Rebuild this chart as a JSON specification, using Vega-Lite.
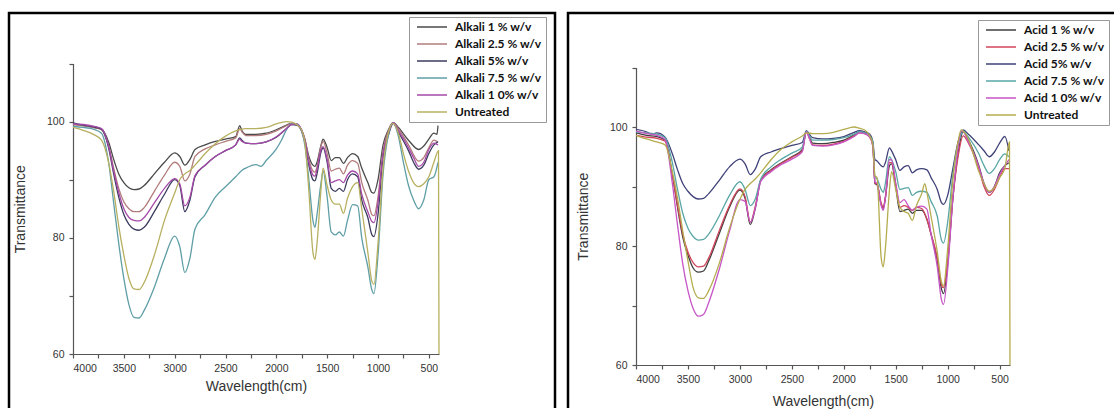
{
"$schema":"https://vega.github.io/schema/vega-lite/v6.json",
"background":"white",
"padding":{"left":7,"top":11,"right":0,"bottom":0},
"spacing":9,
"config":{
"axis":{"labelFont":"Liberation Sans","labelFontSize":10.5,"labelColor":"#333","domainColor":"#555","tickColor":"#555","domainWidth":1.2,"tickWidth":1.2,"tickSize":4,"labelPadding":5,"titleFont":"Liberation Sans","titleFontWeight":"normal","titleColor":"#333","titleFontSize":14,"grid":false},
"legend":{"orient":"none","title":null,"symbolType":"M-0.4,0H5.6","symbolSize":100,"symbolStrokeWidth":1.5,"labelFont":"Lato","labelFontWeight":"bold","labelFontSize":12,"labelColor":"#111","rowPadding":5,"padding":4,"strokeColor":"#999","fillColor":"white","labelOffset":30}
},
"datasets":{
"alk":[
{"s":"A1","w":4000,"t":99.6},{"s":"A1","w":3900,"t":99.3},{"s":"A1","w":3800,"t":99.0},{"s":"A1","w":3720,"t":98.7},{"s":"A1","w":3650,"t":96.5},{"s":"A1","w":3600,"t":93.5},{"s":"A1","w":3550,"t":91},{"s":"A1","w":3500,"t":89.5},{"s":"A1","w":3450,"t":88.6},{"s":"A1","w":3400,"t":88.3},{"s":"A1","w":3350,"t":88.4},{"s":"A1","w":3300,"t":89},{"s":"A1","w":3200,"t":91},{"s":"A1","w":3100,"t":93},{"s":"A1","w":3000,"t":94.6},{"s":"A1","w":2950,"t":94},{"s":"A1","w":2900,"t":92.5},{"s":"A1","w":2850,"t":93.5},{"s":"A1","w":2800,"t":95.2},{"s":"A1","w":2700,"t":96},{"s":"A1","w":2600,"t":96.6},{"s":"A1","w":2500,"t":97},{"s":"A1","w":2400,"t":97.4},{"s":"A1","w":2360,"t":99.3},{"s":"A1","w":2340,"t":98.5},{"s":"A1","w":2300,"t":97.8},{"s":"A1","w":2200,"t":97.8},{"s":"A1","w":2100,"t":98},{"s":"A1","w":2000,"t":98.6},{"s":"A1","w":1900,"t":99.4},{"s":"A1","w":1850,"t":99.7},{"s":"A1","w":1800,"t":99.5},{"s":"A1","w":1750,"t":98.5},{"s":"A1","w":1720,"t":97},{"s":"A1","w":1680,"t":94},{"s":"A1","w":1640,"t":92.5},{"s":"A1","w":1620,"t":92.3},{"s":"A1","w":1600,"t":93},{"s":"A1","w":1560,"t":96},{"s":"A1","w":1540,"t":97},{"s":"A1","w":1500,"t":95.5},{"s":"A1","w":1460,"t":93.3},{"s":"A1","w":1420,"t":93.8},{"s":"A1","w":1380,"t":93.8},{"s":"A1","w":1340,"t":92.8},{"s":"A1","w":1300,"t":93.8},{"s":"A1","w":1250,"t":94.5},{"s":"A1","w":1200,"t":94},{"s":"A1","w":1160,"t":92},{"s":"A1","w":1100,"t":89.5},{"s":"A1","w":1060,"t":87.8},{"s":"A1","w":1040,"t":87.7},{"s":"A1","w":1000,"t":90},{"s":"A1","w":950,"t":96},{"s":"A1","w":900,"t":98.5},{"s":"A1","w":850,"t":99.8},{"s":"A1","w":800,"t":99},{"s":"A1","w":700,"t":96.8},{"s":"A1","w":600,"t":95.2},{"s":"A1","w":550,"t":95.8},{"s":"A1","w":500,"t":97},{"s":"A1","w":450,"t":98},{"s":"A1","w":420,"t":97.8},{"s":"A1","w":410,"t":99.3},
{"s":"A25","w":4000,"t":99.5},{"s":"A25","w":3900,"t":99.3},{"s":"A25","w":3800,"t":99.0},{"s":"A25","w":3720,"t":98.6},{"s":"A25","w":3650,"t":95.8},{"s":"A25","w":3600,"t":92},{"s":"A25","w":3550,"t":88.5},{"s":"A25","w":3500,"t":86.2},{"s":"A25","w":3450,"t":85},{"s":"A25","w":3400,"t":84.5},{"s":"A25","w":3350,"t":84.5},{"s":"A25","w":3300,"t":85.2},{"s":"A25","w":3200,"t":88},{"s":"A25","w":3100,"t":90.8},{"s":"A25","w":3000,"t":93},{"s":"A25","w":2950,"t":92.3},{"s":"A25","w":2900,"t":89.8},{"s":"A25","w":2850,"t":91},{"s":"A25","w":2800,"t":94},{"s":"A25","w":2700,"t":95.3},{"s":"A25","w":2600,"t":96},{"s":"A25","w":2500,"t":96.6},{"s":"A25","w":2400,"t":97.2},{"s":"A25","w":2360,"t":98.8},{"s":"A25","w":2340,"t":98.3},{"s":"A25","w":2300,"t":97.6},{"s":"A25","w":2200,"t":97.6},{"s":"A25","w":2100,"t":97.8},{"s":"A25","w":2000,"t":98.4},{"s":"A25","w":1900,"t":99.3},{"s":"A25","w":1850,"t":99.7},{"s":"A25","w":1800,"t":99.5},{"s":"A25","w":1750,"t":98.5},{"s":"A25","w":1720,"t":97},{"s":"A25","w":1680,"t":93.5},{"s":"A25","w":1640,"t":91.5},{"s":"A25","w":1620,"t":91.3},{"s":"A25","w":1600,"t":92.2},{"s":"A25","w":1560,"t":95.8},{"s":"A25","w":1540,"t":96.6},{"s":"A25","w":1500,"t":94.5},{"s":"A25","w":1460,"t":91.5},{"s":"A25","w":1420,"t":91.8},{"s":"A25","w":1380,"t":92},{"s":"A25","w":1340,"t":91},{"s":"A25","w":1300,"t":92.5},{"s":"A25","w":1250,"t":93.3},{"s":"A25","w":1200,"t":92.8},{"s":"A25","w":1160,"t":89.5},{"s":"A25","w":1100,"t":86.5},{"s":"A25","w":1060,"t":84},{"s":"A25","w":1040,"t":83.8},{"s":"A25","w":1000,"t":87},{"s":"A25","w":950,"t":95},{"s":"A25","w":900,"t":98.3},{"s":"A25","w":850,"t":99.8},{"s":"A25","w":800,"t":98.8},{"s":"A25","w":700,"t":96},{"s":"A25","w":600,"t":93.2},{"s":"A25","w":550,"t":93.8},{"s":"A25","w":500,"t":95.5},{"s":"A25","w":450,"t":96.8},{"s":"A25","w":410,"t":96.5},
{"s":"A5","w":4000,"t":99.8},{"s":"A5","w":3900,"t":99.4},{"s":"A5","w":3800,"t":99.1},{"s":"A5","w":3720,"t":98.7},{"s":"A5","w":3650,"t":95.5},{"s":"A5","w":3600,"t":91},{"s":"A5","w":3550,"t":87},{"s":"A5","w":3500,"t":84},{"s":"A5","w":3450,"t":82.3},{"s":"A5","w":3400,"t":81.5},{"s":"A5","w":3350,"t":81.3},{"s":"A5","w":3300,"t":81.8},{"s":"A5","w":3200,"t":84.5},{"s":"A5","w":3100,"t":87.5},{"s":"A5","w":3000,"t":90},{"s":"A5","w":2950,"t":89},{"s":"A5","w":2900,"t":84.5},{"s":"A5","w":2850,"t":86.5},{"s":"A5","w":2800,"t":90.5},{"s":"A5","w":2700,"t":92.5},{"s":"A5","w":2600,"t":94},{"s":"A5","w":2500,"t":95},{"s":"A5","w":2400,"t":96},{"s":"A5","w":2360,"t":97.2},{"s":"A5","w":2340,"t":96.8},{"s":"A5","w":2300,"t":96.3},{"s":"A5","w":2200,"t":96.2},{"s":"A5","w":2100,"t":96.5},{"s":"A5","w":2000,"t":97.3},{"s":"A5","w":1900,"t":98.8},{"s":"A5","w":1850,"t":99.5},{"s":"A5","w":1800,"t":99.4},{"s":"A5","w":1750,"t":98.3},{"s":"A5","w":1720,"t":96.5},{"s":"A5","w":1680,"t":92.5},{"s":"A5","w":1640,"t":90},{"s":"A5","w":1620,"t":89.8},{"s":"A5","w":1600,"t":91},{"s":"A5","w":1560,"t":94.8},{"s":"A5","w":1540,"t":95.5},{"s":"A5","w":1500,"t":93},{"s":"A5","w":1460,"t":88.5},{"s":"A5","w":1420,"t":88},{"s":"A5","w":1380,"t":88.5},{"s":"A5","w":1340,"t":88},{"s":"A5","w":1300,"t":90},{"s":"A5","w":1250,"t":91},{"s":"A5","w":1200,"t":90.5},{"s":"A5","w":1160,"t":86.5},{"s":"A5","w":1100,"t":83.5},{"s":"A5","w":1060,"t":80.5},{"s":"A5","w":1040,"t":80.2},{"s":"A5","w":1000,"t":84},{"s":"A5","w":950,"t":94},{"s":"A5","w":900,"t":97.5},{"s":"A5","w":850,"t":99.7},{"s":"A5","w":800,"t":98.2},{"s":"A5","w":700,"t":95},{"s":"A5","w":650,"t":93},{"s":"A5","w":600,"t":91.8},{"s":"A5","w":550,"t":92.5},{"s":"A5","w":500,"t":94.5},{"s":"A5","w":450,"t":96},{"s":"A5","w":410,"t":96.5},
{"s":"A75","w":4000,"t":99.2},{"s":"A75","w":3900,"t":99},{"s":"A75","w":3800,"t":98.7},{"s":"A75","w":3720,"t":98},{"s":"A75","w":3650,"t":93},{"s":"A75","w":3600,"t":86},{"s":"A75","w":3550,"t":79},{"s":"A75","w":3500,"t":73},{"s":"A75","w":3450,"t":68.5},{"s":"A75","w":3400,"t":66.3},{"s":"A75","w":3350,"t":66.2},{"s":"A75","w":3300,"t":67.5},{"s":"A75","w":3200,"t":71.5},{"s":"A75","w":3100,"t":76.5},{"s":"A75","w":3000,"t":80.3},{"s":"A75","w":2950,"t":78.5},{"s":"A75","w":2900,"t":74},{"s":"A75","w":2850,"t":76.5},{"s":"A75","w":2800,"t":81.5},{"s":"A75","w":2700,"t":84},{"s":"A75","w":2600,"t":87},{"s":"A75","w":2500,"t":88.8},{"s":"A75","w":2400,"t":90.5},{"s":"A75","w":2340,"t":91.6},{"s":"A75","w":2300,"t":92},{"s":"A75","w":2200,"t":92.6},{"s":"A75","w":2150,"t":92.3},{"s":"A75","w":2100,"t":93.3},{"s":"A75","w":2000,"t":95.3},{"s":"A75","w":1950,"t":96.8},{"s":"A75","w":1900,"t":98.6},{"s":"A75","w":1850,"t":99.6},{"s":"A75","w":1800,"t":99.6},{"s":"A75","w":1750,"t":98.3},{"s":"A75","w":1720,"t":96},{"s":"A75","w":1680,"t":90},{"s":"A75","w":1640,"t":83},{"s":"A75","w":1620,"t":81.8},{"s":"A75","w":1600,"t":84},{"s":"A75","w":1560,"t":89.5},{"s":"A75","w":1540,"t":91.5},{"s":"A75","w":1500,"t":87},{"s":"A75","w":1460,"t":81},{"s":"A75","w":1420,"t":80.5},{"s":"A75","w":1380,"t":81},{"s":"A75","w":1340,"t":80.3},{"s":"A75","w":1300,"t":83},{"s":"A75","w":1250,"t":85.7},{"s":"A75","w":1200,"t":85.5},{"s":"A75","w":1160,"t":80},{"s":"A75","w":1100,"t":75},{"s":"A75","w":1060,"t":71},{"s":"A75","w":1040,"t":70.4},{"s":"A75","w":1000,"t":77},{"s":"A75","w":950,"t":91},{"s":"A75","w":900,"t":97.5},{"s":"A75","w":850,"t":99.8},{"s":"A75","w":800,"t":97.5},{"s":"A75","w":750,"t":93},{"s":"A75","w":700,"t":89},{"s":"A75","w":650,"t":86.5},{"s":"A75","w":600,"t":85},{"s":"A75","w":550,"t":86.5},{"s":"A75","w":500,"t":90},{"s":"A75","w":450,"t":90.5},{"s":"A75","w":410,"t":93},
{"s":"A10","w":4000,"t":99.6},{"s":"A10","w":3900,"t":99.5},{"s":"A10","w":3800,"t":99.2},{"s":"A10","w":3720,"t":98.8},{"s":"A10","w":3650,"t":95.8},{"s":"A10","w":3600,"t":91.5},{"s":"A10","w":3550,"t":87.8},{"s":"A10","w":3500,"t":85},{"s":"A10","w":3450,"t":83.5},{"s":"A10","w":3400,"t":83},{"s":"A10","w":3350,"t":82.9},{"s":"A10","w":3300,"t":83.5},{"s":"A10","w":3200,"t":86},{"s":"A10","w":3100,"t":88.5},{"s":"A10","w":3000,"t":90.2},{"s":"A10","w":2950,"t":89.3},{"s":"A10","w":2900,"t":85.5},{"s":"A10","w":2850,"t":87},{"s":"A10","w":2800,"t":90.7},{"s":"A10","w":2700,"t":92.5},{"s":"A10","w":2600,"t":94},{"s":"A10","w":2500,"t":95},{"s":"A10","w":2400,"t":96},{"s":"A10","w":2360,"t":97},{"s":"A10","w":2340,"t":96.6},{"s":"A10","w":2300,"t":96.3},{"s":"A10","w":2200,"t":96.2},{"s":"A10","w":2100,"t":96.5},{"s":"A10","w":2000,"t":97.4},{"s":"A10","w":1900,"t":98.8},{"s":"A10","w":1850,"t":99.5},{"s":"A10","w":1800,"t":99.6},{"s":"A10","w":1750,"t":98.5},{"s":"A10","w":1720,"t":96.8},{"s":"A10","w":1680,"t":93},{"s":"A10","w":1640,"t":90.8},{"s":"A10","w":1620,"t":90.6},{"s":"A10","w":1600,"t":91.8},{"s":"A10","w":1560,"t":95.2},{"s":"A10","w":1540,"t":95.7},{"s":"A10","w":1500,"t":93.5},{"s":"A10","w":1460,"t":89.5},{"s":"A10","w":1420,"t":89.8},{"s":"A10","w":1380,"t":90},{"s":"A10","w":1340,"t":89.5},{"s":"A10","w":1300,"t":90.8},{"s":"A10","w":1250,"t":91.5},{"s":"A10","w":1200,"t":91},{"s":"A10","w":1160,"t":87.5},{"s":"A10","w":1100,"t":84.5},{"s":"A10","w":1060,"t":82.8},{"s":"A10","w":1040,"t":82.6},{"s":"A10","w":1000,"t":86},{"s":"A10","w":950,"t":94.5},{"s":"A10","w":900,"t":98},{"s":"A10","w":850,"t":99.8},{"s":"A10","w":800,"t":98.5},{"s":"A10","w":700,"t":95.5},{"s":"A10","w":650,"t":93.8},{"s":"A10","w":600,"t":92.3},{"s":"A10","w":550,"t":93},{"s":"A10","w":500,"t":95.2},{"s":"A10","w":450,"t":96.3},{"s":"A10","w":410,"t":96},
{"s":"U","w":4000,"t":99.0},{"s":"U","w":3900,"t":98.5},{"s":"U","w":3800,"t":97.8},{"s":"U","w":3720,"t":96.8},{"s":"U","w":3650,"t":93},{"s":"U","w":3600,"t":88},{"s":"U","w":3550,"t":82},{"s":"U","w":3500,"t":77},{"s":"U","w":3450,"t":73},{"s":"U","w":3400,"t":71.2},{"s":"U","w":3350,"t":71.1},{"s":"U","w":3300,"t":72.3},{"s":"U","w":3200,"t":77},{"s":"U","w":3100,"t":83},{"s":"U","w":3000,"t":87.7},{"s":"U","w":2950,"t":90},{"s":"U","w":2900,"t":91},{"s":"U","w":2850,"t":91.6},{"s":"U","w":2800,"t":92.5},{"s":"U","w":2700,"t":94.5},{"s":"U","w":2600,"t":96.2},{"s":"U","w":2500,"t":97.5},{"s":"U","w":2400,"t":98.4},{"s":"U","w":2300,"t":98.8},{"s":"U","w":2200,"t":98.8},{"s":"U","w":2100,"t":99},{"s":"U","w":2000,"t":99.6},{"s":"U","w":1900,"t":100},{"s":"U","w":1850,"t":99.9},{"s":"U","w":1800,"t":99.5},{"s":"U","w":1750,"t":98.5},{"s":"U","w":1720,"t":96.5},{"s":"U","w":1680,"t":88},{"s":"U","w":1640,"t":77.5},{"s":"U","w":1620,"t":76.3},{"s":"U","w":1600,"t":79},{"s":"U","w":1560,"t":88.5},{"s":"U","w":1540,"t":92},{"s":"U","w":1500,"t":89},{"s":"U","w":1460,"t":86.5},{"s":"U","w":1420,"t":85.8},{"s":"U","w":1380,"t":85.8},{"s":"U","w":1340,"t":84.2},{"s":"U","w":1300,"t":86.8},{"s":"U","w":1250,"t":88.8},{"s":"U","w":1200,"t":89.5},{"s":"U","w":1160,"t":85},{"s":"U","w":1100,"t":77.5},{"s":"U","w":1060,"t":72.5},{"s":"U","w":1040,"t":72},{"s":"U","w":1000,"t":79},{"s":"U","w":950,"t":92},{"s":"U","w":900,"t":98},{"s":"U","w":850,"t":99.7},{"s":"U","w":800,"t":98},{"s":"U","w":750,"t":94.5},{"s":"U","w":700,"t":91.5},{"s":"U","w":650,"t":89.5},{"s":"U","w":600,"t":88.8},{"s":"U","w":550,"t":89.3},{"s":"U","w":500,"t":90.5},{"s":"U","w":450,"t":93},{"s":"U","w":405,"t":95},{"s":"U","w":400,"t":60}
],
"acd":[
{"s":"C1","w":4000,"t":99},{"s":"C1","w":3900,"t":98.6},{"s":"C1","w":3800,"t":98.4},{"s":"C1","w":3720,"t":97.8},{"s":"C1","w":3650,"t":92},{"s":"C1","w":3600,"t":86.5},{"s":"C1","w":3550,"t":81.5},{"s":"C1","w":3500,"t":78.5},{"s":"C1","w":3450,"t":76.3},{"s":"C1","w":3400,"t":75.6},{"s":"C1","w":3350,"t":75.8},{"s":"C1","w":3300,"t":77.5},{"s":"C1","w":3200,"t":82},{"s":"C1","w":3100,"t":86.5},{"s":"C1","w":3000,"t":89.4},{"s":"C1","w":2950,"t":88},{"s":"C1","w":2900,"t":83.6},{"s":"C1","w":2850,"t":86.5},{"s":"C1","w":2800,"t":91},{"s":"C1","w":2700,"t":92.8},{"s":"C1","w":2600,"t":94},{"s":"C1","w":2500,"t":95},{"s":"C1","w":2400,"t":96.2},{"s":"C1","w":2360,"t":99.3},{"s":"C1","w":2340,"t":98.7},{"s":"C1","w":2300,"t":97.3},{"s":"C1","w":2200,"t":97.2},{"s":"C1","w":2100,"t":97.4},{"s":"C1","w":2000,"t":97.8},{"s":"C1","w":1900,"t":98.7},{"s":"C1","w":1850,"t":99.2},{"s":"C1","w":1800,"t":99},{"s":"C1","w":1750,"t":98.5},{"s":"C1","w":1720,"t":97},{"s":"C1","w":1700,"t":90.5},{"s":"C1","w":1680,"t":90.3},{"s":"C1","w":1640,"t":87},{"s":"C1","w":1620,"t":86.3},{"s":"C1","w":1600,"t":88},{"s":"C1","w":1560,"t":93.5},{"s":"C1","w":1540,"t":93.8},{"s":"C1","w":1500,"t":90},{"s":"C1","w":1460,"t":85.8},{"s":"C1","w":1420,"t":86},{"s":"C1","w":1380,"t":86.2},{"s":"C1","w":1340,"t":85.5},{"s":"C1","w":1300,"t":86},{"s":"C1","w":1250,"t":86},{"s":"C1","w":1200,"t":84.5},{"s":"C1","w":1160,"t":82},{"s":"C1","w":1100,"t":77.5},{"s":"C1","w":1060,"t":72.8},{"s":"C1","w":1040,"t":72},{"s":"C1","w":1000,"t":77},{"s":"C1","w":950,"t":88},{"s":"C1","w":900,"t":95.5},{"s":"C1","w":850,"t":99.2},{"s":"C1","w":800,"t":97.8},{"s":"C1","w":700,"t":93.5},{"s":"C1","w":650,"t":90.5},{"s":"C1","w":600,"t":89},{"s":"C1","w":550,"t":90},{"s":"C1","w":500,"t":92.3},{"s":"C1","w":450,"t":93.5},{"s":"C1","w":410,"t":94},
{"s":"C25","w":4000,"t":98.6},{"s":"C25","w":3900,"t":98.3},{"s":"C25","w":3800,"t":98.1},{"s":"C25","w":3720,"t":97.6},{"s":"C25","w":3650,"t":92},{"s":"C25","w":3600,"t":86.8},{"s":"C25","w":3550,"t":82},{"s":"C25","w":3500,"t":79},{"s":"C25","w":3450,"t":77.2},{"s":"C25","w":3400,"t":76.5},{"s":"C25","w":3350,"t":76.6},{"s":"C25","w":3300,"t":78},{"s":"C25","w":3200,"t":82.5},{"s":"C25","w":3100,"t":86.8},{"s":"C25","w":3000,"t":89.6},{"s":"C25","w":2950,"t":88.3},{"s":"C25","w":2900,"t":84},{"s":"C25","w":2850,"t":86.8},{"s":"C25","w":2800,"t":91},{"s":"C25","w":2700,"t":92.7},{"s":"C25","w":2600,"t":93.9},{"s":"C25","w":2500,"t":94.9},{"s":"C25","w":2400,"t":96},{"s":"C25","w":2360,"t":99.2},{"s":"C25","w":2340,"t":98.5},{"s":"C25","w":2300,"t":97},{"s":"C25","w":2200,"t":96.9},{"s":"C25","w":2100,"t":97.1},{"s":"C25","w":2000,"t":97.6},{"s":"C25","w":1900,"t":98.5},{"s":"C25","w":1850,"t":99},{"s":"C25","w":1800,"t":98.9},{"s":"C25","w":1750,"t":98.3},{"s":"C25","w":1720,"t":96.8},{"s":"C25","w":1700,"t":90.5},{"s":"C25","w":1680,"t":90.5},{"s":"C25","w":1640,"t":87.2},{"s":"C25","w":1620,"t":86.5},{"s":"C25","w":1600,"t":88.2},{"s":"C25","w":1560,"t":94},{"s":"C25","w":1540,"t":94},{"s":"C25","w":1500,"t":90.5},{"s":"C25","w":1460,"t":86.5},{"s":"C25","w":1420,"t":86.8},{"s":"C25","w":1380,"t":86.5},{"s":"C25","w":1340,"t":86},{"s":"C25","w":1300,"t":86.5},{"s":"C25","w":1250,"t":86.3},{"s":"C25","w":1200,"t":84.5},{"s":"C25","w":1160,"t":82},{"s":"C25","w":1100,"t":78},{"s":"C25","w":1060,"t":73.5},{"s":"C25","w":1040,"t":73},{"s":"C25","w":1000,"t":77.5},{"s":"C25","w":950,"t":88},{"s":"C25","w":900,"t":95},{"s":"C25","w":850,"t":98.5},{"s":"C25","w":800,"t":97.3},{"s":"C25","w":700,"t":93},{"s":"C25","w":650,"t":90},{"s":"C25","w":600,"t":88.5},{"s":"C25","w":550,"t":89.5},{"s":"C25","w":500,"t":91.5},{"s":"C25","w":450,"t":93},{"s":"C25","w":410,"t":93},
{"s":"C5","w":4000,"t":99.6},{"s":"C5","w":3900,"t":99.2},{"s":"C5","w":3850,"t":98.8},{"s":"C5","w":3800,"t":99},{"s":"C5","w":3720,"t":98.3},{"s":"C5","w":3650,"t":95.5},{"s":"C5","w":3600,"t":92.8},{"s":"C5","w":3550,"t":90.5},{"s":"C5","w":3500,"t":89.2},{"s":"C5","w":3450,"t":88.3},{"s":"C5","w":3400,"t":87.9},{"s":"C5","w":3350,"t":88},{"s":"C5","w":3300,"t":88.8},{"s":"C5","w":3200,"t":91},{"s":"C5","w":3100,"t":93.3},{"s":"C5","w":3000,"t":94.6},{"s":"C5","w":2950,"t":93.8},{"s":"C5","w":2900,"t":92},{"s":"C5","w":2850,"t":93},{"s":"C5","w":2800,"t":95},{"s":"C5","w":2700,"t":95.8},{"s":"C5","w":2600,"t":96.4},{"s":"C5","w":2500,"t":96.9},{"s":"C5","w":2400,"t":97.4},{"s":"C5","w":2360,"t":99.4},{"s":"C5","w":2340,"t":99},{"s":"C5","w":2300,"t":98.2},{"s":"C5","w":2200,"t":98},{"s":"C5","w":2100,"t":98.1},{"s":"C5","w":2000,"t":98.4},{"s":"C5","w":1900,"t":99.1},{"s":"C5","w":1850,"t":99.4},{"s":"C5","w":1800,"t":99.2},{"s":"C5","w":1750,"t":98.8},{"s":"C5","w":1720,"t":97.5},{"s":"C5","w":1700,"t":94.5},{"s":"C5","w":1680,"t":94.3},{"s":"C5","w":1640,"t":93.5},{"s":"C5","w":1620,"t":93.3},{"s":"C5","w":1600,"t":94},{"s":"C5","w":1560,"t":96.5},{"s":"C5","w":1540,"t":96},{"s":"C5","w":1500,"t":94.5},{"s":"C5","w":1460,"t":92.7},{"s":"C5","w":1420,"t":93.3},{"s":"C5","w":1380,"t":93.5},{"s":"C5","w":1340,"t":92.3},{"s":"C5","w":1300,"t":92.8},{"s":"C5","w":1250,"t":93},{"s":"C5","w":1200,"t":92.8},{"s":"C5","w":1160,"t":91.5},{"s":"C5","w":1100,"t":89.5},{"s":"C5","w":1060,"t":87.3},{"s":"C5","w":1040,"t":87},{"s":"C5","w":1000,"t":88.5},{"s":"C5","w":950,"t":93},{"s":"C5","w":900,"t":97.5},{"s":"C5","w":850,"t":99.5},{"s":"C5","w":800,"t":98.8},{"s":"C5","w":700,"t":97},{"s":"C5","w":650,"t":96},{"s":"C5","w":600,"t":95},{"s":"C5","w":550,"t":95.8},{"s":"C5","w":500,"t":97.3},{"s":"C5","w":450,"t":98.4},{"s":"C5","w":410,"t":96},
{"s":"C75","w":4000,"t":99.2},{"s":"C75","w":3900,"t":99},{"s":"C75","w":3800,"t":98.8},{"s":"C75","w":3720,"t":98.2},{"s":"C75","w":3650,"t":94},{"s":"C75","w":3600,"t":89.5},{"s":"C75","w":3550,"t":85.5},{"s":"C75","w":3500,"t":83},{"s":"C75","w":3450,"t":81.6},{"s":"C75","w":3400,"t":81},{"s":"C75","w":3350,"t":81.1},{"s":"C75","w":3300,"t":82},{"s":"C75","w":3200,"t":85},{"s":"C75","w":3100,"t":88.5},{"s":"C75","w":3000,"t":90.8},{"s":"C75","w":2950,"t":89.5},{"s":"C75","w":2900,"t":86.8},{"s":"C75","w":2850,"t":88},{"s":"C75","w":2800,"t":91.2},{"s":"C75","w":2700,"t":93.3},{"s":"C75","w":2600,"t":94.6},{"s":"C75","w":2500,"t":95.6},{"s":"C75","w":2400,"t":96.6},{"s":"C75","w":2360,"t":99.3},{"s":"C75","w":2340,"t":98.8},{"s":"C75","w":2300,"t":97.8},{"s":"C75","w":2200,"t":97.8},{"s":"C75","w":2100,"t":97.9},{"s":"C75","w":2000,"t":98.2},{"s":"C75","w":1900,"t":98.8},{"s":"C75","w":1850,"t":99.2},{"s":"C75","w":1800,"t":99},{"s":"C75","w":1750,"t":98.5},{"s":"C75","w":1720,"t":97.5},{"s":"C75","w":1700,"t":91.5},{"s":"C75","w":1680,"t":91.3},{"s":"C75","w":1640,"t":89.5},{"s":"C75","w":1620,"t":89},{"s":"C75","w":1600,"t":90.5},{"s":"C75","w":1560,"t":95},{"s":"C75","w":1540,"t":94.5},{"s":"C75","w":1500,"t":92.5},{"s":"C75","w":1460,"t":89.5},{"s":"C75","w":1420,"t":89.7},{"s":"C75","w":1380,"t":89.8},{"s":"C75","w":1340,"t":88.5},{"s":"C75","w":1300,"t":89},{"s":"C75","w":1250,"t":89.2},{"s":"C75","w":1200,"t":89},{"s":"C75","w":1160,"t":87.5},{"s":"C75","w":1100,"t":85},{"s":"C75","w":1060,"t":81},{"s":"C75","w":1040,"t":80.5},{"s":"C75","w":1000,"t":84},{"s":"C75","w":950,"t":92},{"s":"C75","w":900,"t":97},{"s":"C75","w":850,"t":99.3},{"s":"C75","w":800,"t":98.3},{"s":"C75","w":700,"t":95.5},{"s":"C75","w":650,"t":93.5},{"s":"C75","w":600,"t":92.2},{"s":"C75","w":550,"t":93},{"s":"C75","w":500,"t":94.5},{"s":"C75","w":450,"t":95.5},{"s":"C75","w":410,"t":95},
{"s":"C10","w":4000,"t":99.3},{"s":"C10","w":3900,"t":98.9},{"s":"C10","w":3800,"t":98.6},{"s":"C10","w":3720,"t":97.9},{"s":"C10","w":3650,"t":90.5},{"s":"C10","w":3600,"t":83.5},{"s":"C10","w":3550,"t":77},{"s":"C10","w":3500,"t":72.5},{"s":"C10","w":3450,"t":69.5},{"s":"C10","w":3400,"t":68.2},{"s":"C10","w":3350,"t":68.5},{"s":"C10","w":3300,"t":70.5},{"s":"C10","w":3200,"t":76},{"s":"C10","w":3100,"t":82.5},{"s":"C10","w":3000,"t":87.8},{"s":"C10","w":2950,"t":87.5},{"s":"C10","w":2900,"t":84},{"s":"C10","w":2850,"t":86.5},{"s":"C10","w":2800,"t":90.8},{"s":"C10","w":2700,"t":92.5},{"s":"C10","w":2600,"t":93.7},{"s":"C10","w":2500,"t":94.6},{"s":"C10","w":2400,"t":95.8},{"s":"C10","w":2360,"t":99.2},{"s":"C10","w":2340,"t":98.5},{"s":"C10","w":2300,"t":96.9},{"s":"C10","w":2200,"t":96.8},{"s":"C10","w":2100,"t":97},{"s":"C10","w":2000,"t":97.5},{"s":"C10","w":1900,"t":98.4},{"s":"C10","w":1850,"t":99},{"s":"C10","w":1800,"t":98.9},{"s":"C10","w":1750,"t":98.3},{"s":"C10","w":1720,"t":96.8},{"s":"C10","w":1700,"t":90.8},{"s":"C10","w":1680,"t":90.5},{"s":"C10","w":1640,"t":86.8},{"s":"C10","w":1620,"t":86},{"s":"C10","w":1600,"t":88},{"s":"C10","w":1560,"t":94.5},{"s":"C10","w":1540,"t":94.5},{"s":"C10","w":1500,"t":90.5},{"s":"C10","w":1460,"t":87.3},{"s":"C10","w":1420,"t":87.8},{"s":"C10","w":1380,"t":86.8},{"s":"C10","w":1340,"t":86},{"s":"C10","w":1300,"t":86.5},{"s":"C10","w":1250,"t":86.7},{"s":"C10","w":1200,"t":86.2},{"s":"C10","w":1160,"t":82},{"s":"C10","w":1100,"t":76.5},{"s":"C10","w":1060,"t":71},{"s":"C10","w":1040,"t":70.2},{"s":"C10","w":1000,"t":76},{"s":"C10","w":950,"t":88},{"s":"C10","w":900,"t":96.5},{"s":"C10","w":870,"t":99.3},{"s":"C10","w":850,"t":99.2},{"s":"C10","w":800,"t":97.5},{"s":"C10","w":700,"t":93.3},{"s":"C10","w":650,"t":90.5},{"s":"C10","w":600,"t":89},{"s":"C10","w":550,"t":90},{"s":"C10","w":500,"t":92},{"s":"C10","w":450,"t":93.5},{"s":"C10","w":410,"t":94.5},
{"s":"U","w":4000,"t":98.6},{"s":"U","w":3900,"t":98},{"s":"U","w":3800,"t":97.5},{"s":"U","w":3720,"t":97},{"s":"U","w":3650,"t":92.5},{"s":"U","w":3600,"t":88},{"s":"U","w":3550,"t":82.5},{"s":"U","w":3500,"t":77.5},{"s":"U","w":3450,"t":73},{"s":"U","w":3400,"t":71.3},{"s":"U","w":3350,"t":71.2},{"s":"U","w":3300,"t":72.5},{"s":"U","w":3200,"t":77},{"s":"U","w":3100,"t":83},{"s":"U","w":3000,"t":87.8},{"s":"U","w":2950,"t":89.5},{"s":"U","w":2900,"t":90.5},{"s":"U","w":2850,"t":91.3},{"s":"U","w":2800,"t":92.3},{"s":"U","w":2700,"t":94.5},{"s":"U","w":2600,"t":96.3},{"s":"U","w":2500,"t":97.5},{"s":"U","w":2400,"t":98.5},{"s":"U","w":2360,"t":99},{"s":"U","w":2300,"t":98.9},{"s":"U","w":2200,"t":98.9},{"s":"U","w":2100,"t":99.1},{"s":"U","w":2000,"t":99.6},{"s":"U","w":1900,"t":100},{"s":"U","w":1850,"t":99.8},{"s":"U","w":1800,"t":99.5},{"s":"U","w":1750,"t":98.5},{"s":"U","w":1720,"t":97},{"s":"U","w":1700,"t":91.8},{"s":"U","w":1680,"t":91.5},{"s":"U","w":1640,"t":78},{"s":"U","w":1620,"t":76.5},{"s":"U","w":1600,"t":79.5},{"s":"U","w":1560,"t":89.5},{"s":"U","w":1540,"t":92.5},{"s":"U","w":1500,"t":89.5},{"s":"U","w":1460,"t":86.5},{"s":"U","w":1420,"t":85.8},{"s":"U","w":1380,"t":85.5},{"s":"U","w":1340,"t":84.3},{"s":"U","w":1300,"t":86.8},{"s":"U","w":1250,"t":88.8},{"s":"U","w":1220,"t":90.5},{"s":"U","w":1200,"t":89},{"s":"U","w":1160,"t":85},{"s":"U","w":1100,"t":79},{"s":"U","w":1060,"t":74},{"s":"U","w":1040,"t":73.3},{"s":"U","w":1000,"t":79.5},{"s":"U","w":950,"t":91},{"s":"U","w":900,"t":97.5},{"s":"U","w":870,"t":99.5},{"s":"U","w":850,"t":99.3},{"s":"U","w":800,"t":98},{"s":"U","w":750,"t":95.3},{"s":"U","w":700,"t":92.5},{"s":"U","w":650,"t":90.5},{"s":"U","w":600,"t":89.2},{"s":"U","w":550,"t":89.8},{"s":"U","w":500,"t":91.5},{"s":"U","w":450,"t":93},{"s":"U","w":405,"t":97.5},{"s":"U","w":400,"t":60}
]
},
"hconcat":[
{
"width":546,"height":395,
"view":{"stroke":"#000","strokeWidth":2.5,"strokeDash":[941,546,395]},
"data":{"name":"alk"},
"mark":{"type":"line","strokeWidth":1.3,"interpolate":"monotone"},
"encoding":{
"x":{"field":"w","type":"quantitative","scale":{"domain":[4000,400],"range":[64,430],"nice":false,"zero":false},
"axis":{"title":"Wavelength(cm)","offset":-54,"format":"d","values":[4000,3750,3500,3250,3000,2750,2500,2250,2000,1750,1500,1250,1000,750,500],"labelExpr":"datum.value % 500 == 0 ? datum.label : ''","titlePadding":6}},
"y":{"field":"t","type":"quantitative","scale":{"domain":[60,110],"range":[341,50.5],"nice":false,"zero":false},
"axis":{"title":"Transmittance","offset":-64,"values":[60,70,80,90,100,110],"labelExpr":"datum.value % 20 == 0 ? datum.label : ''","titlePadding":19}},
"color":{"field":"s","type":"nominal","scale":{"domain":["A1","A25","A5","A75","A10","U"],"range":["#4a4a4a","#b27c7c","#3b3b5e","#5f9ea6","#a54aa8","#b7b060"]},
"legend":{"legendX":400,"legendY":4,"labelExpr":"datum.label == 'A1' ? 'Alkali 1 % w/v' : datum.label == 'A25' ? 'Alkali 2.5 % w/v' : datum.label == 'A5' ? 'Alkali 5% w/v' : datum.label == 'A75' ? 'Alkali 7.5 % w/v' : datum.label == 'A10' ? 'Alkali 1 0% w/v' : 'Untreated'"}}
}
},
{
"width":546,"height":395,
"view":{"stroke":"#000","strokeWidth":2.5,"strokeDash":[546,941,395]},
"data":{"name":"acd"},
"mark":{"type":"line","strokeWidth":1.3,"interpolate":"monotone"},
"encoding":{
"x":{"field":"w","type":"quantitative","scale":{"domain":[4000,400],"range":[68,442],"nice":false,"zero":false},
"axis":{"title":"Wavelength(cm)","offset":-43,"format":"d","values":[4000,3750,3500,3250,3000,2750,2500,2250,2000,1750,1500,1250,1000,750,500],"labelExpr":"datum.value % 500 == 0 ? datum.label : ''","titlePadding":10}},
"y":{"field":"t","type":"quantitative","scale":{"domain":[60,110],"range":[352,54.5],"nice":false,"zero":false},
"axis":{"title":"Transmittance","offset":-68,"values":[60,70,80,90,100,110],"labelExpr":"datum.value % 20 == 0 ? datum.label : ''","titlePadding":19}},
"color":{"field":"s","type":"nominal","scale":{"domain":["C1","C25","C5","C75","C10","U"],"range":["#3f3f3f","#d2445a","#3f4178","#5aa6a6","#c655c6","#b4ac4e"]},
"legend":{"legendX":410,"legendY":7,"labelExpr":"datum.label == 'C1' ? 'Acid 1 % w/v' : datum.label == 'C25' ? 'Acid 2.5 % w/v' : datum.label == 'C5' ? 'Acid 5% w/v' : datum.label == 'C75' ? 'Acid 7.5 % w/v' : datum.label == 'C10' ? 'Acid 1 0% w/v' : 'Untreated'"}}
}
}
],
"resolve":{"scale":{"color":"independent"},"legend":{"color":"independent"}}
}
